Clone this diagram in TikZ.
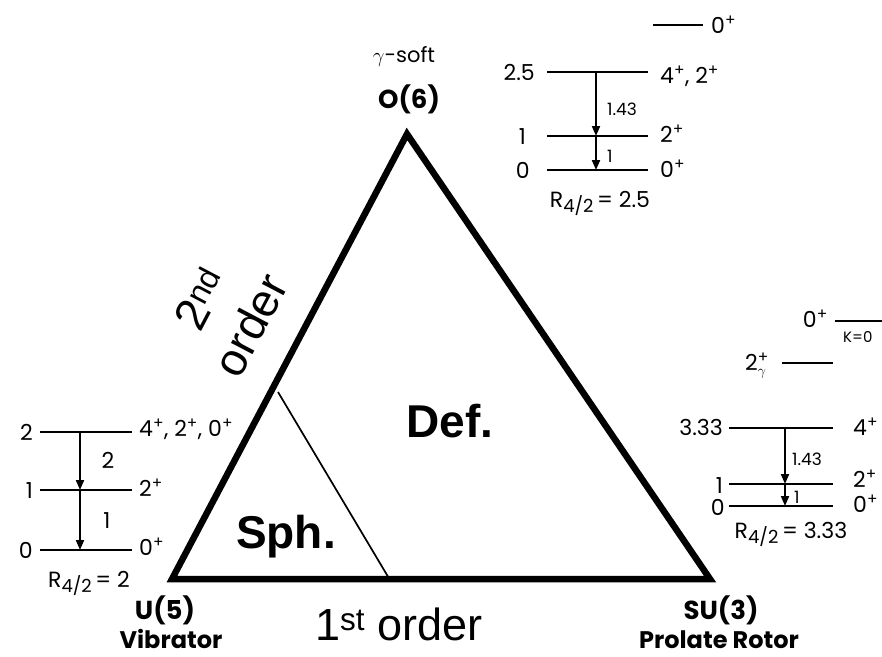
\documentclass[tikz,border=0pt]{standalone}
\usepackage{amsmath}
\usepackage{fontspec}
\setmainfont{Poppins}
\newfontfamily\arialf{Liberation Sans}
\usetikzlibrary{arrows.meta,positioning}
\newcommand{\splus}{\textsuperscript{+}}
\newcommand{\rfour}{R\raisebox{-0.45ex}{\fontsize{18}{19}\selectfont 4/2}\,}
\tikzset{
  lvl/.style={line width=2.6pt},
  ar/.style={-{Triangle[length=10pt,width=8pt]},line width=2pt},
  num/.style={font=\fontsize{22}{24}\selectfont,inner sep=0pt},
  sml/.style={font=\fontsize{17}{19}\selectfont,inner sep=0pt},
  grp/.style={font=\fontsize{26}{28}\selectfont\bfseries,inner sep=0pt},
  big/.style={font=\arialf\fontsize{46}{50}\selectfont\bfseries,inner sep=0pt},
  ord/.style={font=\arialf\fontsize{46}{56}\selectfont,inner sep=0pt,align=center}
}
\begin{document}
\begin{tikzpicture}[x=1pt,y=-1pt]
\useasboundingbox (0,0) rectangle (882,656);
\coordinate (U5) at (172,579);
\coordinate (SU3) at (710,579);
\coordinate (O6) at (407,134);
\draw[line width=6.5pt] (U5) -- (O6) -- (SU3) -- cycle;
\coordinate (bnd2) at (278,392);
\coordinate (bnd1) at (390,580);
\draw[line width=1.7pt] (bnd2) -- (bnd1);
\node[big,anchor=base] (def) at (450,437) {Def.};
\node[big,anchor=base] (sph) at (286,548) {Sph.};
\node[ord,rotate=62.2] (ord2) at (226,312) {2\textsuperscript{nd}\\order};
\node[font=\arialf\fontsize{45}{48}\selectfont,inner sep=0pt,anchor=base] (ord1) at (399,640) {1\textsuperscript{st} order};
\node[font=\fontsize{21}{23}\selectfont,inner sep=0pt,anchor=base] (gsoft) at (404,62) {$\gamma$-soft};
\node[grp,anchor=base] (o6) at (409,108) {O(6)};
\node[grp,anchor=base] (u5) at (165,619) {U(5)};
\node[grp,anchor=base,font=\fontsize{24}{26}\selectfont\bfseries] (vib) at (171,648) {Vibrator};
\node[grp,anchor=base] (su3) at (721,619) {SU(3)};
\node[grp,anchor=base,font=\fontsize{24}{26}\selectfont\bfseries] (rot) at (719,648) {Prolate Rotor};
% vibrator
\foreach \y in {432,490,550} \draw[lvl] (40,\y) -- (132,\y);
\coordinate (v2) at (80,432);
\coordinate (v1) at (80,490);
\coordinate (v0) at (80,550);
\draw[ar] (v2) -- (v1);
\draw[ar] (v1) -- (v0);
\node[num,anchor=base east] (ve2) at (33,440) {2};
\node[num,anchor=base east] (ve1) at (33,498) {1};
\node[num,anchor=base east] (ve0) at (33,558) {0};
\node[num,anchor=base west] (vj2) at (139,436) {4\splus, 2\splus, 0\splus};
\node[num,anchor=base west] (vj1) at (139,496) {2\splus};
\node[num,anchor=base west] (vj0) at (139,555) {0\splus};
\node[num,anchor=base] (vt2) at (108,468) {2};
\node[num,anchor=base] (vt1) at (107,528) {1};
\node[num,anchor=base] (vr) at (89,587) {\rfour= 2};
% gamma-soft
\coordinate (g0a) at (653,25);
\coordinate (g0b) at (703,25);
\draw[lvl] (g0a) -- (g0b);
\node[num,anchor=base west] (gj3) at (711,33) {0\splus};
\foreach \y in {72,136,170} \draw[lvl] (547,\y) -- (648,\y);
\coordinate (g2) at (596,72);
\coordinate (g1) at (596,136);
\coordinate (g0) at (596,170);
\draw[ar] (g2) -- (g1);
\draw[ar] (g1) -- (g0);
\node[num,anchor=base east] (ge2) at (535,80) {2.5};
\node[num,anchor=base east] (ge1) at (526,144) {1};
\node[num,anchor=base east] (ge0) at (530,178) {0};
\node[num,anchor=base west] (gj2) at (660,83) {4\splus, 2\splus};
\node[num,anchor=base west] (gj1) at (660,142) {2\splus};
\node[num,anchor=base west] (gj0) at (660,177) {0\splus};
\node[sml,anchor=base west] (gt2) at (607,115) {1.43};
\node[sml,anchor=base west] (gt1) at (607,162) {1};
\node[num,anchor=base] (gr) at (600,207) {\rfour= 2.5};
% rotor
\coordinate (k0a) at (835,321);
\coordinate (k0b) at (890,321);
\draw[lvl] (k0a) -- (k0b);
\node[num,anchor=base east] (kb) at (828,327) {0\splus};
\node[font=\fontsize{15}{17}\selectfont,inner sep=0pt,anchor=base west] (kk) at (843,342) {K=0};
\coordinate (gga) at (782,363);
\coordinate (ggb) at (833,363);
\draw[lvl] (gga) -- (ggb);
\node[num,anchor=base west] (gg) at (745,370) {2$^{\text{+}}_{\gamma}$};
\foreach \y in {428,484,506} \draw[lvl] (729,\y) -- (833,\y);
\coordinate (r4) at (785,428);
\coordinate (r2) at (785,484);
\coordinate (r0) at (785,506);
\draw[ar] (r4) -- (r2);
\draw[ar] (r2) -- (r0);
\node[num,anchor=base east] (re4) at (723,435) {3.33};
\node[num,anchor=base east] (re2) at (723,493) {1};
\node[num,anchor=base east] (re0) at (725,515) {0};
\node[num,anchor=base west] (rj4) at (853,435) {4\splus};
\node[num,anchor=base west] (rj2) at (853,487) {2\splus};
\node[num,anchor=base west] (rj0) at (853,512) {0\splus};
\node[sml,anchor=base west] (rt4) at (792,465) {1.43};
\node[sml,anchor=base west] (rt2) at (794,503) {1};
\node[num,anchor=base] (rr) at (791,538) {\rfour= 3.33};
\end{tikzpicture}
\end{document}
